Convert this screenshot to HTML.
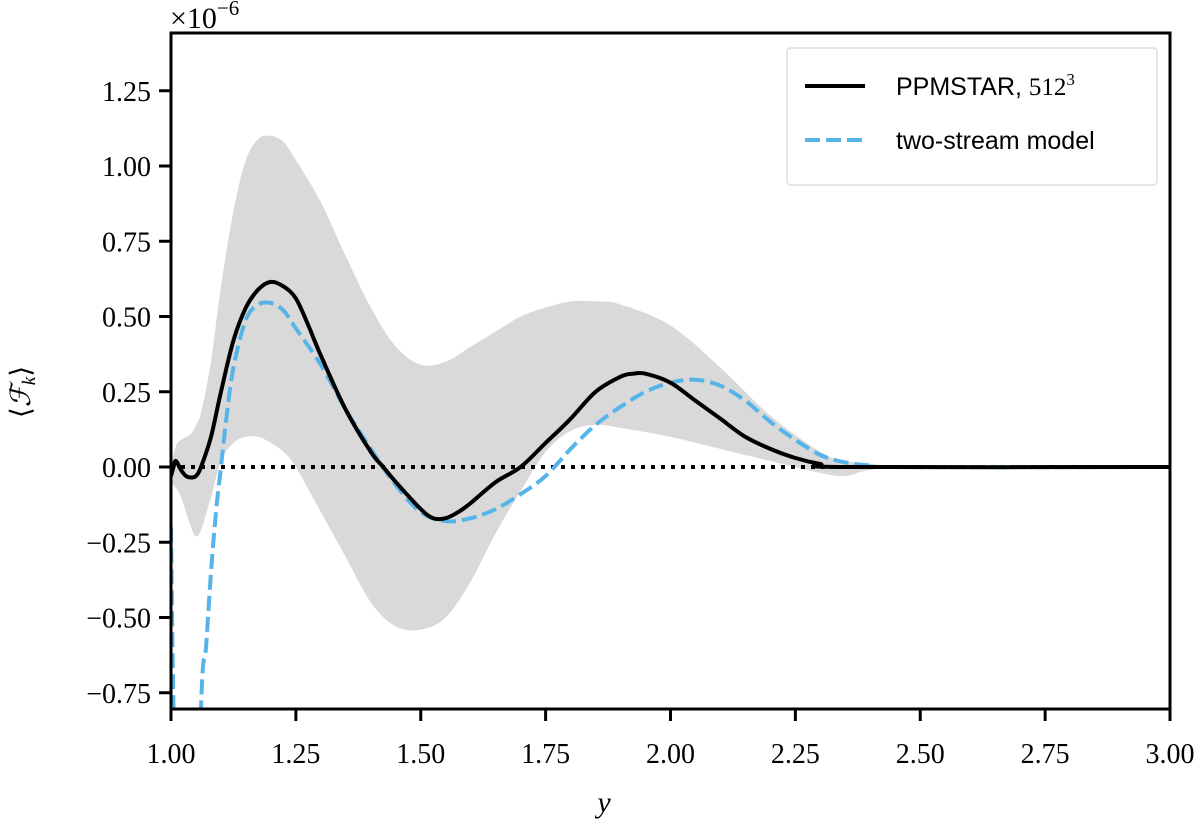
<!DOCTYPE html>
<html><head><meta charset="utf-8"><style>
html,body{margin:0;background:#fff;overflow:hidden;width:1200px;height:828px;}
svg{display:block;}
svg text{font-family:"Liberation Serif",serif;}
</style></head><body>
<svg id="chart" width="1200" height="828" xmlns="http://www.w3.org/2000/svg">
<defs><clipPath id="clip"><rect x="171" y="33" width="999" height="676"/></clipPath></defs>
<g id="band" clip-path="url(#clip)"></g>
<g id="lines" clip-path="url(#clip)"></g>
<g id="axes"></g>
<text x="170" y="28" font-size="30">×10<tspan dy="-13" font-size="21">−6</tspan></text>
<text x="604" y="812" font-size="30" font-style="italic" text-anchor="middle">y</text>
<text transform="translate(30,392) rotate(-90)" font-size="28" text-anchor="middle">⟨<tspan font-style="italic">ℱ</tspan><tspan font-style="italic" font-size="19" dy="5">k</tspan><tspan dy="-5">⟩</tspan></text>
<g>
<rect x="787" y="48" width="370" height="137" fill="#fff" fill-opacity="0.85" stroke="#ddd" stroke-width="1.5" rx="4"/>
<line x1="805" y1="86" x2="865" y2="86" stroke="#000" stroke-width="4"/>
<text x="896" y="95" font-size="25" style="font-family:'Liberation Sans',sans-serif">PPMSTAR, <tspan style="font-family:'Liberation Serif',serif">512</tspan><tspan dy="-10" font-size="17" style="font-family:'Liberation Serif',serif">3</tspan></text>
<line x1="805" y1="140" x2="865" y2="140" stroke="#56B4E9" stroke-width="4" stroke-dasharray="15,6"/>
<text x="896" y="149" font-size="25" style="font-family:'Liberation Sans',sans-serif">two-stream model</text>
</g>
</svg>
<script>
const xTicks=[1.00,1.25,1.50,1.75,2.00,2.25,2.50,2.75,3.00];
const yTicks=[-0.75,-0.50,-0.25,0.00,0.25,0.50,0.75,1.00,1.25];
const ppmX=[1.0,1.005,1.01,1.02,1.03,1.04,1.05,1.06,1.08,1.10,1.125,1.15,1.175,1.20,1.225,1.25,1.275,1.30,1.35,1.40,1.425,1.45,1.50,1.525,1.55,1.575,1.60,1.65,1.70,1.75,1.80,1.85,1.90,1.925,1.95,2.00,2.05,2.10,2.15,2.20,2.25,2.30,2.35,3.0];
const ppmY=[-0.03,0.0,0.02,-0.01,-0.03,-0.035,-0.03,0.0,0.1,0.25,0.42,0.53,0.59,0.615,0.60,0.56,0.47,0.37,0.19,0.05,0.0,-0.05,-0.14,-0.17,-0.17,-0.15,-0.12,-0.05,0.0,0.08,0.16,0.25,0.30,0.31,0.31,0.28,0.22,0.16,0.10,0.06,0.03,0.01,0.0,0.0];
const tsX=[1.0,1.005,1.02,1.04,1.06,1.07,1.08,1.09,1.10,1.11,1.125,1.15,1.175,1.20,1.225,1.25,1.30,1.35,1.40,1.45,1.50,1.55,1.60,1.65,1.70,1.75,1.80,1.85,1.90,1.95,2.00,2.05,2.10,2.15,2.20,2.25,2.30,2.35,2.40,2.45,3.0];
const tsY=[-0.2,-0.8,-2,-2,-0.8,-0.6,-0.35,-0.15,0.0,0.15,0.33,0.49,0.54,0.545,0.52,0.46,0.34,0.19,0.06,-0.06,-0.15,-0.18,-0.17,-0.14,-0.09,-0.03,0.06,0.14,0.20,0.25,0.28,0.29,0.27,0.22,0.15,0.09,0.04,0.015,0.005,0,0];
const bandX=[1.0,1.01,1.02,1.04,1.05,1.06,1.08,1.10,1.125,1.15,1.175,1.20,1.225,1.25,1.30,1.35,1.40,1.45,1.50,1.55,1.60,1.65,1.70,1.75,1.80,1.85,1.90,2.00,2.10,2.20,2.30,2.35,2.40,2.50,3.0];
const bandHi=[0.0,0.07,0.09,0.11,0.14,0.18,0.35,0.6,0.85,1.02,1.09,1.10,1.08,1.02,0.88,0.70,0.53,0.40,0.34,0.35,0.40,0.45,0.50,0.53,0.55,0.55,0.54,0.47,0.33,0.17,0.05,0.02,0.01,0.0,0.0];
const bandLo=[-0.05,-0.07,-0.1,-0.2,-0.23,-0.21,-0.1,0.02,0.08,0.1,0.1,0.08,0.05,0.0,-0.15,-0.3,-0.45,-0.53,-0.54,-0.5,-0.38,-0.22,-0.08,0.05,0.12,0.14,0.13,0.10,0.06,0.02,-0.02,-0.03,-0.01,0.0,0.0];
const NS='http://www.w3.org/2000/svg';
const L=171,R=1170,T=33,B=709;
const sx=v=>L+(v-1)/2*(R-L);
const sy=v=>467-v*301;
function mk(tag,attrs,parent){const e=document.createElementNS(NS,tag);for(const k in attrs)e.setAttribute(k,attrs[k]);parent.appendChild(e);return e;}
function smooth(P,move){
 let d=(move?'M':'L')+P[0][0].toFixed(1)+','+P[0][1].toFixed(1);
 for(let i=0;i<P.length-1;i++){
  const p0=P[Math.max(i-1,0)],p1=P[i],p2=P[i+1],p3=P[Math.min(i+2,P.length-1)];
  const c1=[p1[0]+(p2[0]-p0[0])/6,p1[1]+(p2[1]-p0[1])/6];
  const c2=[p2[0]-(p3[0]-p1[0])/6,p2[1]-(p3[1]-p1[1])/6];
  d+='C'+c1.map(v=>v.toFixed(1))+' '+c2.map(v=>v.toFixed(1))+' '+p2.map(v=>v.toFixed(1));
 }
 return d;
}
const P=(xs,ys)=>xs.map((x,i)=>[sx(x),sy(ys[i])]);
const axes=document.getElementById('axes');
const band=document.getElementById('band');
const bp=mk('path',{d:smooth(P(bandX,bandHi),true)+smooth(P(bandX,bandLo).reverse(),false)+'Z',fill:'#d9d9d9'},band);


const lines=document.getElementById('lines');
const zl=mk('line',{x1:sx(1),x2:sx(3),y1:sy(0),y2:sy(0),stroke:'#000','stroke-width':4,'stroke-dasharray':'4,6'},lines);


const tl=mk('path',{d:smooth(P(tsX,tsY),true),fill:'none',stroke:'#56B4E9','stroke-width':4,'stroke-dasharray':'15,6'},lines);


const pl=mk('path',{d:smooth(P(ppmX,ppmY),true),fill:'none',stroke:'#000','stroke-width':4,'stroke-linejoin':'round'},lines);


const fr=mk('rect',{x:L,y:T,width:R-L,height:B-T,fill:'none',stroke:'#000','stroke-width':3},axes);


xTicks.forEach(v=>{const x=sx(v);
 const t=mk('line',{x1:x,x2:x,y1:B,y2:B+12,stroke:'#000','stroke-width':3},axes);
 
 
 const s=mk('text',{x:x,y:B+54,'font-size':28,'text-anchor':'middle'},axes);s.textContent=v.toFixed(2);
 
 });
yTicks.forEach(v=>{const y=sy(v);
 const t=mk('line',{x1:L-12,x2:L,y1:y,y2:y,stroke:'#000','stroke-width':3},axes);
 
 
 const s=mk('text',{x:L-20,y:y+10,'font-size':28,'text-anchor':'end'},axes);s.textContent=(v<0?'\u2212':'')+Math.abs(v).toFixed(2);
 
 });
</script>
</body></html>
